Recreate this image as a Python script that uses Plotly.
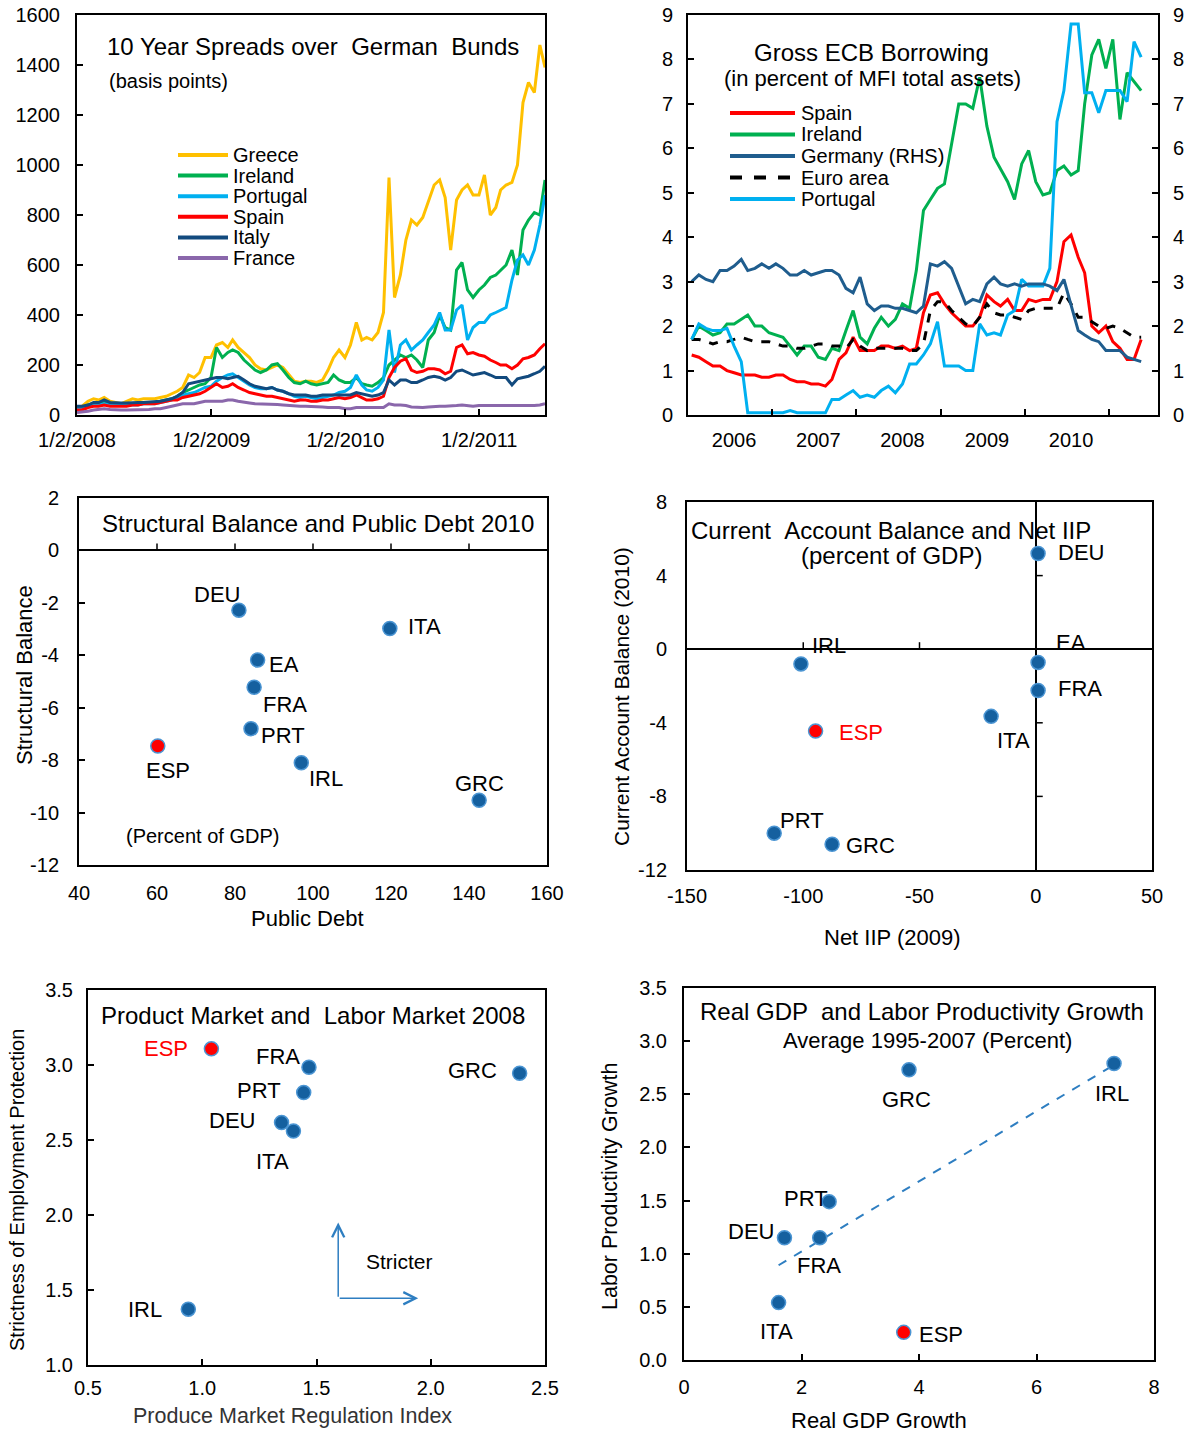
import numpy as np
import plotly.graph_objects as go

W, H = 1193, 1433
FONT = "Arial, 'Liberation Sans', Helvetica, sans-serif"
NB = "\u00a0"

# ---------------- Panel 1: 10 year spreads (bp), semi-monthly readings ----------------
spread_dates = []
for yr in range(2008, 2012):
    for mo in range(1, 13):
        if yr == 2011 and mo > 6:
            break
        spread_dates.append(f"{yr}-{mo:02d}-{'02' if (yr, mo) == (2008, 1) else '01'}")
        spread_dates.append(f"{yr}-{mo:02d}-16")
spread_dates.append("2011-06-30")

greece = [30, 35, 55, 65, 60, 70, 55, 50, 45, 55, 65, 60, 65, 65, 65, 70, 75, 85, 95, 110, 160, 150, 170, 230,
          230, 280, 290, 270, 300, 270, 250, 230, 200, 185, 180, 190, 200, 190, 160, 135, 130, 135, 135, 130, 140, 180, 230, 260,
          230, 280, 370, 300, 310, 300, 330, 410, 950, 470, 560, 700, 780, 760, 790, 850, 920, 940, 870, 660, 860, 900, 920, 880,
          880, 960, 800, 830, 900, 920, 930, 1000, 1250, 1330, 1290, 1480,
          1390]
ireland = [30, 30, 40, 45, 45, 55, 45, 42, 40, 40, 45, 45, 50, 50, 50, 55, 60, 65, 75, 90, 100, 110, 120, 125,
           150, 270, 230, 250, 260, 250, 220, 200, 180, 170, 180, 200, 205, 180, 150, 130, 125, 135, 125, 120, 125, 130, 160, 140,
           130, 130, 150, 125, 120, 115, 130, 150, 200, 220, 240, 230, 240, 220, 190, 300, 330, 400, 350, 340, 580, 610, 500, 470,
           500, 520, 550, 560, 580, 600, 660, 560, 740, 780, 810, 800,
           940]
portugal = [25, 25, 35, 40, 40, 45, 40, 38, 38, 40, 40, 40, 45, 45, 45, 50, 55, 60, 70, 80, 85, 90, 100, 110,
            115, 135, 150, 160, 165, 150, 135, 120, 110, 105, 105, 110, 100, 95, 85, 75, 70, 75, 70, 65, 70, 75, 80, 90,
            95, 110, 160, 120, 100, 95, 110, 140, 340, 170, 280, 300, 260, 280, 300, 330, 360, 410, 340, 340, 420, 440, 300, 350,
            370, 370, 400, 410, 420, 430, 540, 620, 640, 600, 660, 760,
            880]
spain = [20, 20, 30, 35, 35, 40, 35, 35, 35, 35, 40, 40, 45, 45, 45, 50, 55, 60, 60, 70, 75, 80, 85, 95,
         110, 125, 110, 115, 125, 110, 100, 90, 85, 80, 75, 75, 70, 65, 60, 55, 60, 60, 55, 55, 60, 60, 65, 70,
         65, 70, 80, 70, 60, 60, 65, 75, 150, 190, 215, 225, 180, 170, 175, 185, 185, 180, 165, 175, 270, 280, 245, 250,
         240, 235, 220, 210, 200, 200, 185, 200, 225, 230, 240, 265,
         285]
italy = [35, 35, 40, 50, 50, 60, 50, 48, 48, 48, 50, 50, 50, 52, 52, 55, 60, 65, 75, 90, 125, 130, 135, 140,
         145, 150, 150, 145, 150, 155, 140, 125, 115, 110, 105, 110, 100, 95, 85, 80, 80, 80, 75, 75, 80, 80, 80, 80,
         80, 80, 90, 85, 80, 75, 80, 90, 140, 120, 140, 140, 130, 130, 140, 150, 155, 150, 140, 150, 175, 180, 170, 160,
         165, 170, 160, 150, 150, 150, 120, 145, 150, 155, 165, 175,
         195]
france = [10, 12, 15, 20, 22, 25, 22, 20, 20, 20, 20, 22, 22, 22, 25, 25, 30, 35, 40, 45, 45, 45, 50, 55,
          55, 55, 55, 60, 60, 55, 50, 48, 45, 45, 45, 45, 42, 40, 38, 35, 35, 35, 35, 32, 32, 30, 30, 30,
          25, 25, 30, 30, 30, 28, 28, 30, 45, 40, 40, 38, 32, 30, 30, 32, 35, 35, 35, 35, 38, 40, 38, 35,
          38, 38, 36, 35, 35, 35, 35, 35, 38, 38, 38, 40,
          45]
spread_names = ["Greece", "Ireland", "Portugal", "Spain", "Italy", "France"]
spread_values = [greece, ireland, portugal, spain, italy, france]
spread_ticks = ["2008-01-02", "2009-01-02", "2010-01-02", "2011-01-02"]
spread_ticktext = ["1/2/2008", "1/2/2009", "1/2/2010", "1/2/2011"]
spread_yticks = [0, 200, 400, 600, 800, 1000, 1200, 1400, 1600]

# ---------------- Panel 2: gross ECB borrowing (% of MFI assets), monthly ----------------
ecb_months = [f"{2005 + (6 + i) // 12}-{(6 + i) % 12 + 1:02d}-01" for i in range(65)]
ecb_spain = [1.35, 1.3, 1.2, 1.1, 1.1, 1.0, 0.95, 0.9, 0.9, 0.9, 0.85, 0.85, 0.9, 0.9, 0.8, 0.75, 0.75, 0.7, 0.7, 0.65,
             0.8, 1.25, 1.4, 1.75, 1.45, 1.45, 1.45, 1.55, 1.55, 1.5, 1.55, 1.45, 1.5, 2.3, 2.7, 2.75, 2.5, 2.3, 2.15, 2.0,
             2.0, 2.2, 2.7, 2.55, 2.45, 2.6, 2.35, 2.35, 2.6, 2.55, 2.6, 2.6, 3.0, 3.9, 4.05, 3.55, 3.2, 2.0, 1.85, 2.0,
             1.65, 1.5, 1.25, 1.25, 1.7]
ecb_ireland = [1.7, 2.0, 1.9, 1.8, 1.85, 2.05, 2.05, 2.15, 2.25, 2.0, 2.0, 1.85, 1.8, 1.75, 1.55, 1.35, 1.55, 1.55, 1.3, 1.25,
               1.5, 1.45, 1.9, 2.35, 1.75, 1.6, 1.95, 2.2, 2.0, 2.15, 2.5, 2.4, 3.25, 4.6, 4.85, 5.1, 5.2, 6.1, 7.0, 7.0,
               6.9, 7.6, 6.5, 5.8, 5.55, 5.25, 4.85, 5.65, 5.95, 5.25, 4.95, 5.0, 5.5, 5.6, 5.4, 5.5, 7.0, 8.1, 8.45, 7.8,
               8.45, 6.65, 7.7, 7.5, 7.3]
ecb_germany = [3.0, 3.15, 3.05, 3.0, 3.25, 3.25, 3.35, 3.5, 3.25, 3.3, 3.4, 3.3, 3.4, 3.3, 3.15, 3.15, 3.25, 3.15, 3.2, 3.25,
               3.25, 3.15, 2.85, 2.75, 3.1, 2.5, 2.35, 2.45, 2.45, 2.4, 2.4, 2.35, 2.3, 2.45, 3.4, 3.35, 3.45, 3.3, 2.9, 2.5,
               2.6, 2.55, 2.95, 3.1, 2.95, 2.9, 2.95, 2.9, 2.95, 2.95, 2.95, 2.9, 2.8, 3.05, 2.5, 1.9, 1.8, 1.7, 1.65, 1.45,
               1.45, 1.45, 1.3, 1.25, 1.2]
ecb_euro = [1.7, 1.7, 1.65, 1.6, 1.65, 1.65, 1.7, 1.75, 1.7, 1.65, 1.65, 1.65, 1.6, 1.55, 1.55, 1.5, 1.5, 1.55, 1.6, 1.6,
            1.55, 1.55, 1.5, 1.7, 1.55, 1.45, 1.5, 1.5, 1.5, 1.5, 1.5, 1.45, 1.45, 1.6, 2.35, 2.55, 2.55, 2.35, 2.2, 2.05,
            2.0, 2.2, 2.5, 2.3, 2.25, 2.25, 2.2, 2.15, 2.35, 2.4, 2.4, 2.4, 2.4, 2.75, 2.5, 2.2, 2.2, 2.1, 2.0, 1.95,
            2.0, 1.95, 1.85, 1.75, 1.75]
ecb_portugal = [1.7, 2.05, 1.95, 1.9, 1.9, 1.95, 1.55, 1.2, 0.05, 0.05, 0.05, 0.05, 0.05, 0.05, 0.1, 0.05, 0.05, 0.05, 0.05, 0.05,
                0.35, 0.35, 0.45, 0.55, 0.4, 0.45, 0.4, 0.55, 0.65, 0.5, 0.7, 1.15, 1.15, 1.35, 1.6, 2.1, 1.1, 1.1, 1.1, 1.0,
                1.0, 2.05, 1.8, 1.85, 1.8, 2.25, 2.35, 3.05, 2.9, 2.9, 2.9, 3.3, 6.6, 7.3, 8.8, 8.8, 7.25, 7.25, 6.8, 7.3,
                7.3, 7.3, 7.05, 8.4, 8.05]
ecb_year_ticks = ["2006-01-01", "2007-01-01", "2008-01-01", "2009-01-01", "2010-01-01"]
ecb_year_text = ["2006", "2007", "2008", "2009", "2010"]
ecb_minor_ticks = ["2006-06-15", "2007-06-15", "2008-06-15", "2009-06-15", "2010-06-15"]
ecb_yticks = [0, 1, 2, 3, 4, 5, 6, 7, 8, 9]

# ---------------- Panel 3: structural balance vs public debt 2010 ----------------
sb_countries = ["DEU", "ITA", "EA", "FRA", "PRT", "IRL", "GRC", "ESP"]
sb_debt = [81.0, 119.7, 85.8, 84.9, 84.1, 97.0, 142.6, 60.2]
sb_balance = [-2.28, -2.98, -4.18, -5.22, -6.8, -8.1, -9.53, -7.46]
sb_xticks = [40, 60, 80, 100, 120, 140, 160]
sb_yticks = [-12, -10, -8, -6, -4, -2, 0, 2]

# ---------------- Panel 4: current account vs net IIP ----------------
ca_countries = ["DEU", "EA", "FRA", "ITA", "IRL", "PRT", "GRC", "ESP"]
ca_iip = [1.0, 1.0, 1.0, -19.2, -101.0, -112.5, -87.6, -94.7]
ca_balance = [5.2, -0.72, -2.25, -3.65, -0.8, -10.0, -10.6, -4.45]
ca_xticks = [-150, -100, -50, 0, 50]
ca_yticks = [-12, -8, -4, 0, 4, 8]

# ---------------- Panel 5: product market vs labor market 2008 ----------------
pm_countries = ["FRA", "GRC", "PRT", "DEU", "ITA", "IRL", "ESP"]
pm_pmr = [1.467, 2.389, 1.444, 1.347, 1.399, 0.939, 1.04]
pm_epl = [2.985, 2.945, 2.816, 2.616, 2.56, 1.372, 3.108]
pm_xticks = [0.5, 1.0, 1.5, 2.0, 2.5]
pm_yticks = [1.0, 1.5, 2.0, 2.5, 3.0, 3.5]

# ---------------- Panel 6: real GDP vs labor productivity growth ----------------
gp_countries = ["GRC", "IRL", "PRT", "DEU", "FRA", "ITA", "ESP"]
gp_gdp = [3.83, 7.32, 2.47, 1.71, 2.31, 1.61, 3.74]
gp_prod = [2.73, 2.79, 1.49, 1.15, 1.15, 0.54, 0.26]
gp_xticks = [0, 2, 4, 6, 8]
gp_yticks = [0.0, 0.5, 1.0, 1.5, 2.0, 2.5, 3.0, 3.5]

# ============================ styling / layout ============================
SPREAD_COLORS = {"Greece": "#FFC000", "Ireland": "#00B050", "Portugal": "#00B0F0",
                 "Spain": "#FF0000", "Italy": "#124A7E", "France": "#8A67AB"}
ECB_STYLE = [("Spain", "#FF0000", "solid"), ("Ireland", "#00B050", "solid"),
             ("Germany (RHS)", "#1F5D8E", "solid"), ("Euro area", "#000000", "dash"),
             ("Portugal", "#00B0F0", "solid")]
DOT = "#15609F"
DOT_EDGE = "#4B95D3"
RED = "#FF0000"
ARROW = "#2E7EC1"

# plot boxes in pixels: (left, right, top, bottom)
BOX = {1: (77, 545, 15, 415), 2: (688, 1158, 15, 415), 3: (79, 547, 498, 865),
       4: (687, 1152, 502, 870), 5: (88, 545, 990, 1365), 6: (684, 1154, 988, 1360)}


def xf(px):
    return px / W


def yf(py):
    return 1 - py / H


def sfx(i):
    return "" if i == 1 else str(i)


def fmt(vals, dec=None):
    return [(f"{v:.{dec}f}" if dec is not None else f"{v:g}") for v in vals]


def axis(**kw):
    d = dict(showline=True, linecolor="black", linewidth=2, mirror=True, showgrid=False,
             zeroline=False, ticks="inside", ticklen=6, tickwidth=1.5, tickcolor="black",
             automargin=False,
             tickfont=dict(family=FONT, size=20, color="black"), ticklabelstandoff=10)
    d.update(kw)
    return d


layout = dict(width=W, height=H, margin=dict(l=0, r=0, t=0, b=0, autoexpand=False),
              paper_bgcolor="white", plot_bgcolor="white", showlegend=False,
              font=dict(family=FONT, size=20, color="black"))
for i, (l, r, t, b) in BOX.items():
    layout["xaxis" + sfx(i)] = axis(domain=[xf(l), xf(r)], anchor="y" + sfx(i))
    layout["yaxis" + sfx(i)] = axis(domain=[yf(b), yf(t)], anchor="x" + sfx(i))

# panel 1
layout["xaxis"].update(type="date", range=["2008-01-02", "2011-06-30"], tickmode="array",
                       tickvals=spread_ticks, ticktext=spread_ticktext, ticklabelstandoff=6)
layout["yaxis"].update(range=[0, 1600], tickvals=spread_yticks, ticktext=fmt(spread_yticks),
                       ticklabelstandoff=11)
# panel 2
layout["xaxis2"].update(type="date", range=["2005-06-15", "2011-01-13"], tickmode="array",
                        tickvals=ecb_year_ticks, ticktext=ecb_year_text, ticks="",
                        minor=dict(ticks="inside", ticklen=6, tickwidth=1.5, tickcolor="black",
                                   tickmode="array", tickvals=ecb_minor_ticks),
                        ticklabelstandoff=6)
layout["yaxis2"].update(range=[0, 9], tickvals=ecb_yticks, ticktext=fmt(ecb_yticks), ticklabelstandoff=9)
layout["yaxis7"] = axis(range=[0, 9], tickvals=ecb_yticks, ticktext=fmt(ecb_yticks), overlaying="y2",
                        side="right", anchor="x2", showline=False, mirror=False, ticklabelstandoff=14)
# panel 3
layout["xaxis3"].update(range=[40, 160], tickvals=sb_xticks, ticktext=fmt(sb_xticks), ticks="",
                        ticklabelstandoff=9)
layout["yaxis3"].update(range=[-12, 2], tickvals=sb_yticks, ticktext=fmt(sb_yticks), zeroline=True,
                        zerolinecolor="black", zerolinewidth=2, ticklabelstandoff=14)
# panel 4
layout["xaxis4"].update(range=[-150, 50], tickvals=ca_xticks, ticktext=fmt(ca_xticks), ticks="",
                        zeroline=True, zerolinecolor="black", zerolinewidth=2, ticklabelstandoff=7)
layout["yaxis4"].update(range=[-12, 8], tickvals=ca_yticks, ticktext=fmt(ca_yticks), ticks="",
                        zeroline=True, zerolinecolor="black", zerolinewidth=2, ticklabelstandoff=14)
# panel 5
layout["xaxis5"].update(range=[0.5, 2.5], tickvals=pm_xticks, ticktext=fmt(pm_xticks, 1), ticklabelstandoff=4)
layout["yaxis5"].update(range=[1.0, 3.5], tickvals=pm_yticks, ticktext=fmt(pm_yticks, 1), ticklabelstandoff=9)
# panel 6
layout["xaxis6"].update(range=[0, 8], tickvals=gp_xticks, ticktext=fmt(gp_xticks), ticklabelstandoff=8)
layout["yaxis6"].update(range=[0, 3.5], tickvals=gp_yticks, ticktext=fmt(gp_yticks, 1), ticklabelstandoff=11)

fig = go.Figure(layout=layout)

# ---- panel 1 lines
for name, vals in zip(spread_names, spread_values):
    fig.add_trace(go.Scatter(x=spread_dates, y=vals, mode="lines", name=name,
                             line=dict(color=SPREAD_COLORS[name], width=3), xaxis="x", yaxis="y"))

# ---- panel 2 lines
ecb_values = [ecb_spain, ecb_ireland, ecb_germany, ecb_euro, ecb_portugal]
for (name, color, dash), vals in zip(ECB_STYLE, ecb_values):
    fig.add_trace(go.Scatter(x=ecb_months, y=vals, mode="lines", name=name,
                             line=dict(color=color, width=3, dash=dash), xaxis="x2",
                             yaxis="y7" if "RHS" in name else "y2"))


def scatter(xs, ys, names, ax):
    fill = [RED if n == "ESP" else DOT for n in names]
    edge = [DOT_EDGE for _ in names]
    fig.add_trace(go.Scatter(x=xs, y=ys, mode="markers", xaxis="x" + ax, yaxis="y" + ax,
                             marker=dict(size=14, color=fill, line=dict(color=edge, width=1.5))))


scatter(sb_debt, sb_balance, sb_countries, "3")
scatter(ca_iip, ca_balance, ca_countries, "4")
scatter(pm_pmr, pm_epl, pm_countries, "5")

# trend line panel 6 (least squares fit of the plotted points)
slope, icpt = np.polyfit(gp_gdp, gp_prod, 1)
fit_x = np.array([min(gp_gdp), max(gp_gdp)])
fig.add_trace(go.Scatter(x=fit_x, y=slope * fit_x + icpt, mode="lines", xaxis="x6", yaxis="y6",
                         line=dict(color=ARROW, width=2, dash="dash")))
scatter(gp_gdp, gp_prod, gp_countries, "6")

ann = []
shapes = []


def ptext(px, py, text, size=20, anchor="center", angle=0, color="black"):
    ann.append(dict(xref="paper", yref="paper", x=xf(px), y=yf(py), text=text, showarrow=False,
                    xanchor=anchor, yanchor="middle", textangle=angle,
                    font=dict(family=FONT, size=size, color=color)))


def dlabels(names, xs, ys, ax, offsets, red_esp):
    for n, x, y in zip(names, xs, ys):
        dx, dy = offsets[n]
        ann.append(dict(xref="x" + ax, yref="y" + ax, x=x, y=y, text=n, showarrow=False,
                        xshift=dx, yshift=-dy, xanchor="center", yanchor="middle",
                        font=dict(family=FONT, size=22,
                                  color=RED if (red_esp and n == "ESP") else "black")))


# manual legends
def legend(items, x0, x1, xt, y0, step):
    for k, (name, color, dash) in enumerate(items):
        yy = y0 + k * step
        shapes.append(dict(type="line", xref="paper", yref="paper", x0=xf(x0), x1=xf(x1),
                           y0=yf(yy), y1=yf(yy), line=dict(color=color, width=4, dash=dash)))
        ptext(xt, yy, name, size=20, anchor="left")


legend([(n, SPREAD_COLORS[n], "solid") for n in spread_names], 178, 228, 231, 155, 20.6)
legend(ECB_STYLE, 730, 795, 799, 113, 21.5)

# titles
ptext(105, 46, f"10 Year Spreads over {NB}German {NB}Bunds", size=24, anchor="left")
ptext(107, 81, "(basis points)", size=20, anchor="left")
ptext(871, 52, "Gross ECB Borrowing", size=24)
ptext(872, 78, "(in percent of MFI total assets)", size=22)
ptext(318, 523, "Structural Balance and Public Debt 2010", size=24)
ptext(202, 836, "(Percent of GDP)", size=20)
ptext(891, 530, f"Current {NB}Account Balance and Net IIP", size=24)
ptext(891, 556, "(percent of GDP)", size=24)
ptext(313, 1015, f"Product Market and {NB}Labor Market 2008", size=24)
ptext(399, 1261, "Stricter", size=21)
ptext(922, 1011, f"Real GDP {NB}and Labor Productivity Growth", size=24)
ptext(927, 1040, "Average 1995-2007 (Percent)", size=22)

# axis titles
ptext(24, 675, "Structural Balance", size=22, angle=-90)
ptext(307, 918, "Public Debt", size=22)
ptext(621, 697, "Current Account Balance (2010)", size=21, angle=-90)
ptext(892, 937, "Net IIP (2009)", size=22)
ptext(17, 1190, "Strictness of Employment Protection", size=20, angle=-90)
ptext(292, 1416, "Produce Market Regulation Index", size=21.5, color="#333333")
ptext(610, 1187, "Labor Productivity Growth", size=21.5, angle=-90)
ptext(879, 1420, "Real GDP Growth", size=22)

# data labels (pixel offsets from each point)
dlabels(sb_countries, sb_debt, sb_balance, "3",
        {"DEU": (-22, -16), "ITA": (35, -2), "EA": (26, 4), "FRA": (31, 17), "PRT": (32, 7),
         "ESP": (10, 25), "IRL": (25, 16), "GRC": (0, -17)}, False)
dlabels(ca_countries, ca_iip, ca_balance, "4",
        {"DEU": (43, -1), "EA": (33, -20), "FRA": (42, -2), "ITA": (22, 24), "IRL": (28, -18),
         "ESP": (45, 1), "PRT": (28, -13), "GRC": (38, 1)}, True)
dlabels(pm_countries, pm_pmr, pm_epl, "5",
        {"ESP": (-45, 0), "FRA": (-31, -11), "GRC": (-47, -3), "PRT": (-45, -2), "DEU": (-50, -2),
         "ITA": (-21, 30), "IRL": (-43, 0)}, True)
dlabels(gp_countries, gp_gdp, gp_prod, "6",
        {"GRC": (-3, 30), "IRL": (-2, 30), "PRT": (-23, -3), "DEU": (-33, -6), "FRA": (-1, 28),
         "ITA": (-2, 29), "ESP": (37, 2)}, False)

# "Stricter" arrows (panel 5)
ARROW_ORIGIN = (1.595, 1.445)
ARROW_UP_TIP = (1.595, 1.95)
ARROW_RIGHT_TIP = (1.945, 1.445)
for tip in (ARROW_UP_TIP, ARROW_RIGHT_TIP):
    ann.append(dict(xref="x5", yref="y5", axref="x5", ayref="y5", x=tip[0], y=tip[1],
                    ax=ARROW_ORIGIN[0], ay=ARROW_ORIGIN[1], text="", showarrow=True,
                    arrowhead=5, arrowsize=1.6, arrowwidth=1.5, arrowcolor=ARROW))

# tick marks sitting on the zero lines (panels 3 and 4)
for v in sb_xticks[1:-1]:
    shapes.append(dict(type="line", xref="x3", yref="y3", x0=v, x1=v, ysizemode="pixel",
                       yanchor=0, y0=0, y1=7, line=dict(color="black", width=1.5)))
for v in ca_xticks[1:3]:
    shapes.append(dict(type="line", xref="x4", yref="y4", x0=v, x1=v, ysizemode="pixel",
                       yanchor=0, y0=0, y1=7, line=dict(color="black", width=1.5)))
for v in [t for t in ca_yticks[1:-1] if t != 0]:
    shapes.append(dict(type="line", xref="x4", yref="y4", y0=v, y1=v, xsizemode="pixel",
                       xanchor=0, x0=0, x1=7, line=dict(color="black", width=1.5)))

fig.update_layout(annotations=ann, shapes=shapes)
fig.write_html("out.html", config={"displayModeBar": False},
               post_script="document.body.style.margin='0px';document.body.style.padding='0px';"
                           "document.body.style.overflow='hidden';")
